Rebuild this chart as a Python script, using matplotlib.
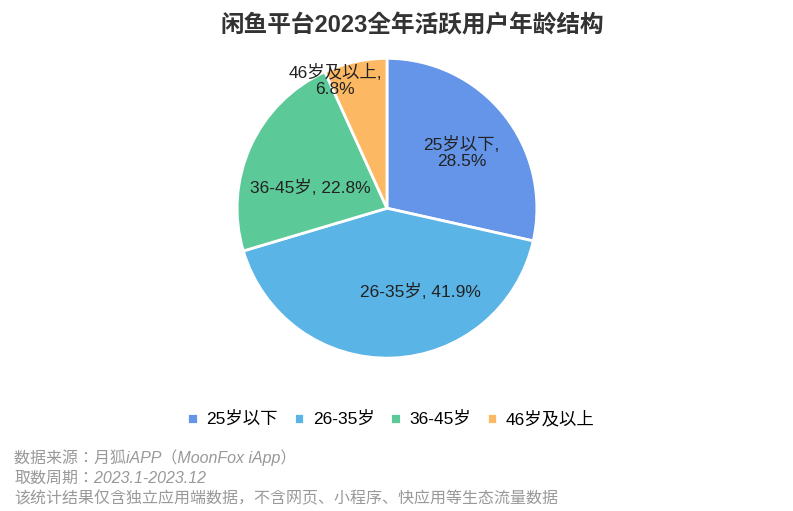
import matplotlib.pyplot as plt
import numpy as np

cjk = ['Noto Sans CJK SC', 'Noto Sans CJK JP', 'Noto Sans CJK TC', 'Noto Sans CJK KR']
plt.rcParams['font.family'] = ['Liberation Sans'] + cjk

categories = ['25岁以下', '26-35岁', '36-45岁', '46岁及以上']
shares = [28.5, 41.9, 22.8, 6.8]
colors = ['#6495E8', '#5AB4E6', '#5CCA98', '#FDB863']

fig = plt.figure(figsize=(7.93, 5.11), dpi=100)
ax = fig.add_axes([0.299, 0.299, 0.378, 0.587])
wedges, _ = ax.pie(shares, colors=colors, startangle=90, counterclock=False,
                   wedgeprops=dict(edgecolor='white', linewidth=2))
ax.set_xlim(-1, 1)
ax.set_ylim(-1, 1)

# label placement: (angle in degrees, radius fraction)
label_pos = [(36.7, 0.62), (-68.5, 0.60), (165, 0.53), (112, 0.92)]
texts = ['25岁以下,\n28.5%', '26-35岁, 41.9%', '36-45岁, 22.8%', '46岁及以上,\n6.8%']
for (ang, r), t in zip(label_pos, texts):
    a = np.deg2rad(ang)
    ax.text(r * np.cos(a), r * np.sin(a), t, ha='center', va='center',
            fontsize=12.5, color='#222222', linespacing=1.1)

fig.text(0.52, 0.95, '闲鱼平台2023全年活跃用户年龄结构', ha='center', va='center',
         fontsize=17, fontweight='bold', color='#333333')

fig.legend(wedges, categories, loc='center', bbox_to_anchor=(0.493, 0.18), ncol=4,
           frameon=False, fontsize=12.5, handlelength=0.6, handleheight=0.6,
           handletextpad=0.5, columnspacing=0.9)

notes = ['数据来源：月狐iAPP（MoonFox iApp）', '取数周期：2023.1-2023.12',
         '该统计结果仅含独立应用端数据，不含网页、小程序、快应用等生态流量数据']
for i, n in enumerate(notes):
    fig.text(0.018, 0.104 - i * 0.04, n, ha='left', va='center', fontsize=11.5,
             color='#999999', style='italic')

fig.savefig('out.png')
